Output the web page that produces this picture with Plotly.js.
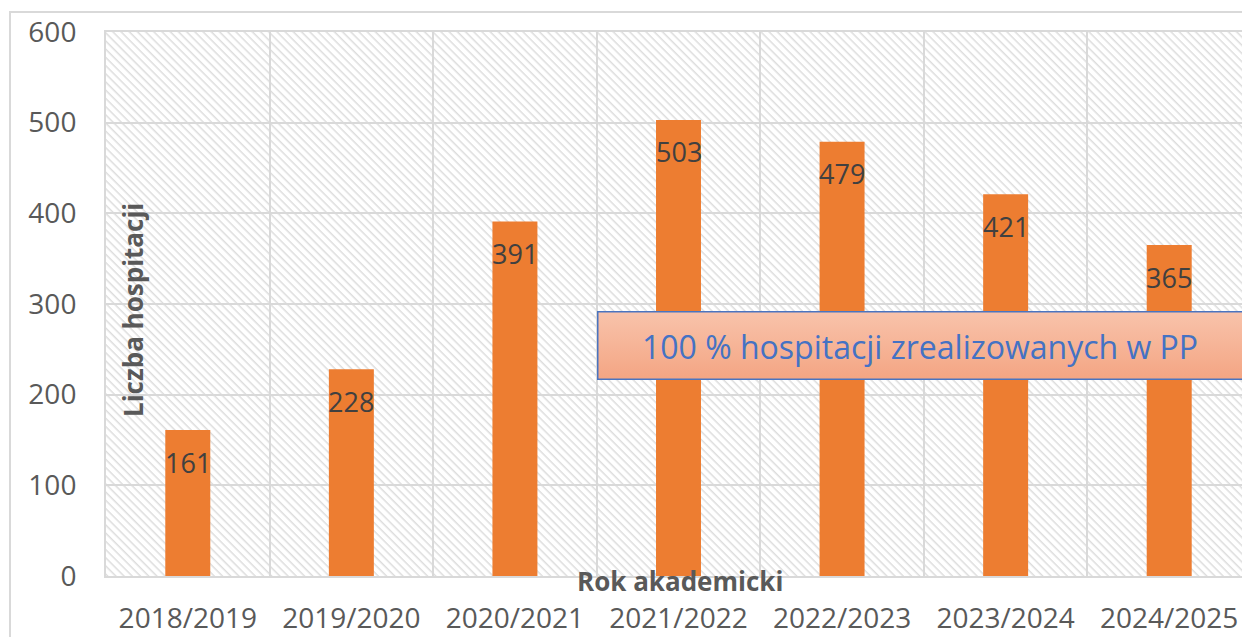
<!DOCTYPE html>
<html>
<head>
<meta charset="utf-8">
<script src="https://cdn.plot.ly/plotly-3.0.1.min.js"></script>
<style>
html,body{margin:0;padding:0;overflow:hidden;background:#fff;width:1242px;height:637px;}
#chart{width:1252px;height:637px;}
</style>
</head>
<body>
<div id="chart"></div>
<script>
const categories = ["2018/2019","2019/2020","2020/2021","2021/2022","2022/2023","2023/2024","2024/2025"];
const values = [161, 228, 391, 503, 479, 421, 365];
const yTickValues = [0,100,200,300,400,500,600];
const yTitle = "Liczba hospitacji";
const xTitle = "Rok akademicki";
const boxText = "100 % hospitacji zrealizowanych w PP";

const FONT = "Open Sans, Noto Sans, sans-serif";
const W = 1252, H = 637, ML = 106, MR = 1, MT = 32, MB = 61;
const PW = W - ML - MR, PH = H - MT - MB;

// hatch background svg
const hatchSvg = `<svg xmlns="http://www.w3.org/2000/svg" width="${PW}" height="${PH}" viewBox="0 0 ${PW} ${PH}" preserveAspectRatio="none"><defs><pattern id="p" width="5.8" height="5.8" patternUnits="userSpaceOnUse" patternTransform="rotate(45)"><rect width="5.8" height="5.8" fill="#ffffff"/><rect x="0" y="0" width="5.8" height="1.5" fill="#dddddd"/></pattern></defs><rect width="${PW}" height="${PH}" fill="url(#p)"/></svg>`;
const hatchUri = "data:image/svg+xml;charset=utf-8," + encodeURIComponent(hatchSvg);

// gradient text box
const bx0 = 597, bx1 = 1252, by0 = 311, by1 = 380;
const bw = bx1 - bx0, bh = by1 - by0;
const boxSvg = `<svg xmlns="http://www.w3.org/2000/svg" width="${bw}" height="${bh}" viewBox="0 0 ${bw} ${bh}" preserveAspectRatio="none"><defs><linearGradient id="g" x1="0" y1="0" x2="0" y2="1"><stop offset="0" stop-color="#f8c3ab"/><stop offset="1" stop-color="#f4a583"/></linearGradient></defs><rect x="0.75" y="0.75" width="${bw+5}" height="${bh-1.5}" fill="url(#g)" stroke="#4a74c0" stroke-width="1.5"/></svg>`;
const boxUri = "data:image/svg+xml;charset=utf-8," + encodeURIComponent(boxSvg);

const px2paperX = px => (px - ML) / PW;
const px2paperY = py => (H - MB - py) / PH;

const trace = {
  type: "bar",
  x: categories,
  y: values,
  width: 0.275,
  marker: {color: "#ED7D31"},
  hoverinfo: "x+y"
};

const labelAnnotations = categories.map((c, i) => ({
  x: c, y: values[i], xref: "x", yref: "y",
  text: String(values[i]),
  showarrow: false,
  yanchor: "middle",
  yshift: -32,
  font: {family: FONT, size: 27, color: "#404040"}
}));

const layout = {
  width: W, height: H,
  margin: {l: ML, r: MR, t: MT, b: MB, pad: 0},
  paper_bgcolor: "rgba(0,0,0,0)",
  plot_bgcolor: "rgba(0,0,0,0)",
  showlegend: false,
  xaxis: {
    type: "category",
    tickson: "boundaries",
    showgrid: true, gridcolor: "#d9d9d9", gridwidth: 2,
    showline: true, linecolor: "#d9d9d9", linewidth: 2, mirror: true,
    ticks: "",
    ticklabelstandoff: 16,
    tickfont: {family: FONT, size: 28, color: "#595959"},
    range: [-0.5, 6.5],
    fixedrange: true
  },
  yaxis: {
    range: [0, 600],
    tickvals: yTickValues,
    ticktext: yTickValues.map(String),
    showgrid: true, gridcolor: "#d9d9d9", gridwidth: 2,
    zeroline: false,
    showline: true, linecolor: "#d9d9d9", linewidth: 2, mirror: true,
    ticks: "",
    ticklabelstandoff: 22,
    tickfont: {family: FONT, size: 28, color: "#595959"},
    fixedrange: true
  },
  images: [
    {source: hatchUri, xref: "paper", yref: "paper", x: 0, y: 1, sizex: 1, sizey: 1,
     xanchor: "left", yanchor: "top", sizing: "stretch", layer: "below"},
    {source: boxUri, xref: "paper", yref: "paper", x: px2paperX(bx0), y: px2paperY(by0),
     sizex: px2paperX(bx1) - px2paperX(bx0), sizey: px2paperY(by0) - px2paperY(by1),
     xanchor: "left", yanchor: "top", sizing: "stretch", layer: "above"}
  ],
  shapes: [
    {type: "rect", xref: "paper", yref: "paper",
     x0: px2paperX(10), x1: px2paperX(1400), y0: px2paperY(700), y1: px2paperY(12),
     line: {color: "#d9d9d9", width: 2}, fillcolor: "rgba(0,0,0,0)", layer: "below"}
  ],
  annotations: labelAnnotations.concat([
    {xref: "paper", yref: "paper", x: px2paperX(133), y: px2paperY(310),
     text: "<b>" + yTitle + "</b>", textangle: -90, showarrow: false,
     xanchor: "center", yanchor: "middle",
     font: {family: FONT, size: 26, color: "#595959"}},
    {xref: "paper", yref: "paper", x: px2paperX(680), y: px2paperY(581),
     text: "<b>" + xTitle + "</b>", showarrow: false,
     xanchor: "center", yanchor: "middle",
     font: {family: FONT, size: 26, color: "#595959"}},
    {xref: "paper", yref: "paper", x: px2paperX(920), y: px2paperY(346),
     text: boxText, showarrow: false,
     xanchor: "center", yanchor: "middle",
     font: {family: FONT, size: 32, color: "#4472C4"}}
  ])
};

Plotly.newPlot("chart", [trace], layout, {displayModeBar: false, staticPlot: true});
</script>
</body>
</html>
